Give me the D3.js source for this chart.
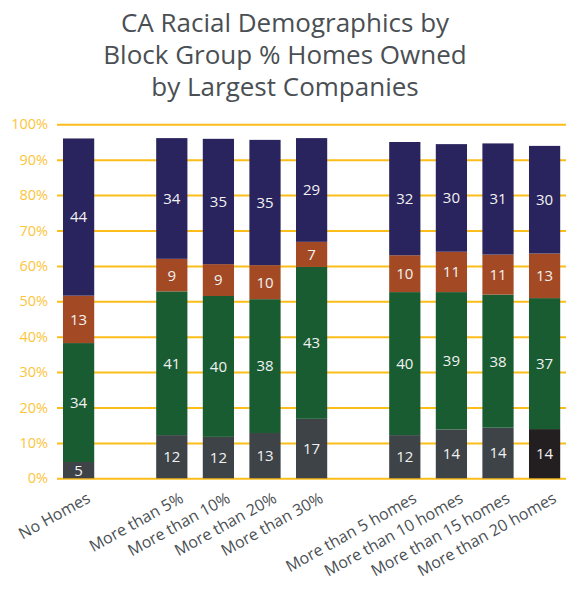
<!DOCTYPE html>
<html lang="en">
<head>
<meta charset="UTF-8">
<title>CA Racial Demographics</title>
<script src="https://d3js.org/d3.v7.min.js"></script>
<style>
    body { margin: 0; background: #fff; font-family: "Open Sans", "Noto Sans", sans-serif; }
    svg { display: block; }
</style>
</head>
<body>
<div id="chart"></div>
<script>
    // categories (blank slots keep the gaps between groups)
    const categories = ['No Homes', '', 'More than 5%', 'More than 10%', 'More than 20%', 'More than 30%', ' ',
        'More than 5 homes', 'More than 10 homes', 'More than 15 homes', 'More than 20 homes'];
    const barCats = categories.filter(c => c.trim() !== '');

    // series values, % of block group population (bottom to top)
    const graySeries   = [4.6, 12.2, 11.7, 12.8, 16.8, 12.2, 13.8, 14.3, 13.9];
    const greenSeries  = [33.6, 40.6, 39.8, 37.8, 42.9, 40.4, 38.8, 37.6, 37.0];
    const orangeSeries = [13.4, 9.2, 9.0, 9.6, 7.1, 10.4, 11.4, 11.3, 12.6];
    const navySeries   = [44.4, 34.1, 35.4, 35.4, 29.3, 32.0, 30.4, 31.4, 30.4];

    const yTicks = [0, 10, 20, 30, 40, 50, 60, 70, 80, 90, 100];

    const seriesList = [
        { key: 'gray', values: graySeries, color: '#3e4347' },
        { key: 'green', values: greenSeries, color: '#195c32' },
        { key: 'orange', values: orangeSeries, color: '#a34a25' },
        { key: 'navy', values: navySeries, color: '#29235e' }
    ];

    const W = 566, H = 591;
    const svg = d3.select('#chart').append('svg').attr('width', W).attr('height', H);

    // title
    const title = ['CA Racial Demographics by', 'Block Group % Homes Owned', 'by Largest Companies'];
    svg.append('g').selectAll('text').data(title).enter().append('text')
        .attr('x', 285)
        .attr('y', (d, i) => 32 + i * 32)
        .attr('text-anchor', 'middle')
        .attr('font-size', '26px')
        .attr('fill', '#4a4f54')
        .text(d => d);

    const y = d3.scaleLinear().domain([0, 100]).range([478.3, 124.3]);
    const x = d3.scaleBand().domain(categories).range([55.3, 567.9]).paddingInner(0.33).paddingOuter(0.165);

    // gridlines + y labels
    const yAxis = d3.axisLeft(y).tickValues(yTicks).tickFormat(d => d + '%').tickSize(-(W - 57)).tickPadding(10);
    const ya = svg.append('g').attr('transform', 'translate(57,0)').call(yAxis);
    ya.select('.domain').remove();
    ya.selectAll('.tick line').attr('stroke', '#fbbd19').attr('stroke-width', 2);
    ya.selectAll('.tick text').attr('fill', '#fcc53c').attr('font-size', '14.5px')
        .attr('font-family', '"Open Sans", sans-serif').attr('x', -9);

    // stacked bars
    const rows = barCats.map((c, i) => {
        const r = { cat: c };
        seriesList.forEach(s => { r[s.key] = s.values[i]; });
        return r;
    });
    const stack = d3.stack().keys(seriesList.map(s => s.key))(rows);

    const layers = svg.append('g').selectAll('g').data(stack).enter().append('g');
    layers.selectAll('rect').data(d => d.map(p => Object.assign(p, { key: d.key }))).enter().append('rect')
        .attr('x', d => x(d.data.cat))
        .attr('width', x.bandwidth())
        .attr('y', d => y(d[1]))
        .attr('height', d => y(d[0]) - y(d[1]))
        .attr('fill', d => (d.key === 'gray' && d.data.cat === 'More than 20 homes') ? '#231f20'
            : seriesList.find(s => s.key === d.key).color);

    layers.selectAll('text').data(d => d).enter().append('text')
        .attr('x', d => x(d.data.cat) + x.bandwidth() / 2)
        .attr('y', d => (y(d[0]) + y(d[1])) / 2)
        .attr('dy', '0.36em')
        .attr('text-anchor', 'middle')
        .attr('font-size', '15px')
        .attr('fill', '#f2f2f2')
        .text(d => Math.round(d[1] - d[0]));

    // x labels
    svg.append('g').selectAll('text').data(barCats).enter().append('text')
        .attr('transform', d => `translate(${x(d) + x.bandwidth() / 2 + 7},${491}) rotate(-29)`)
        .attr('text-anchor', 'end')
        .attr('dy', '0.75em')
        .attr('font-size', '16px')
        .attr('fill', '#4a4f54')
        .text(d => d);
</script>
</body>
</html>
